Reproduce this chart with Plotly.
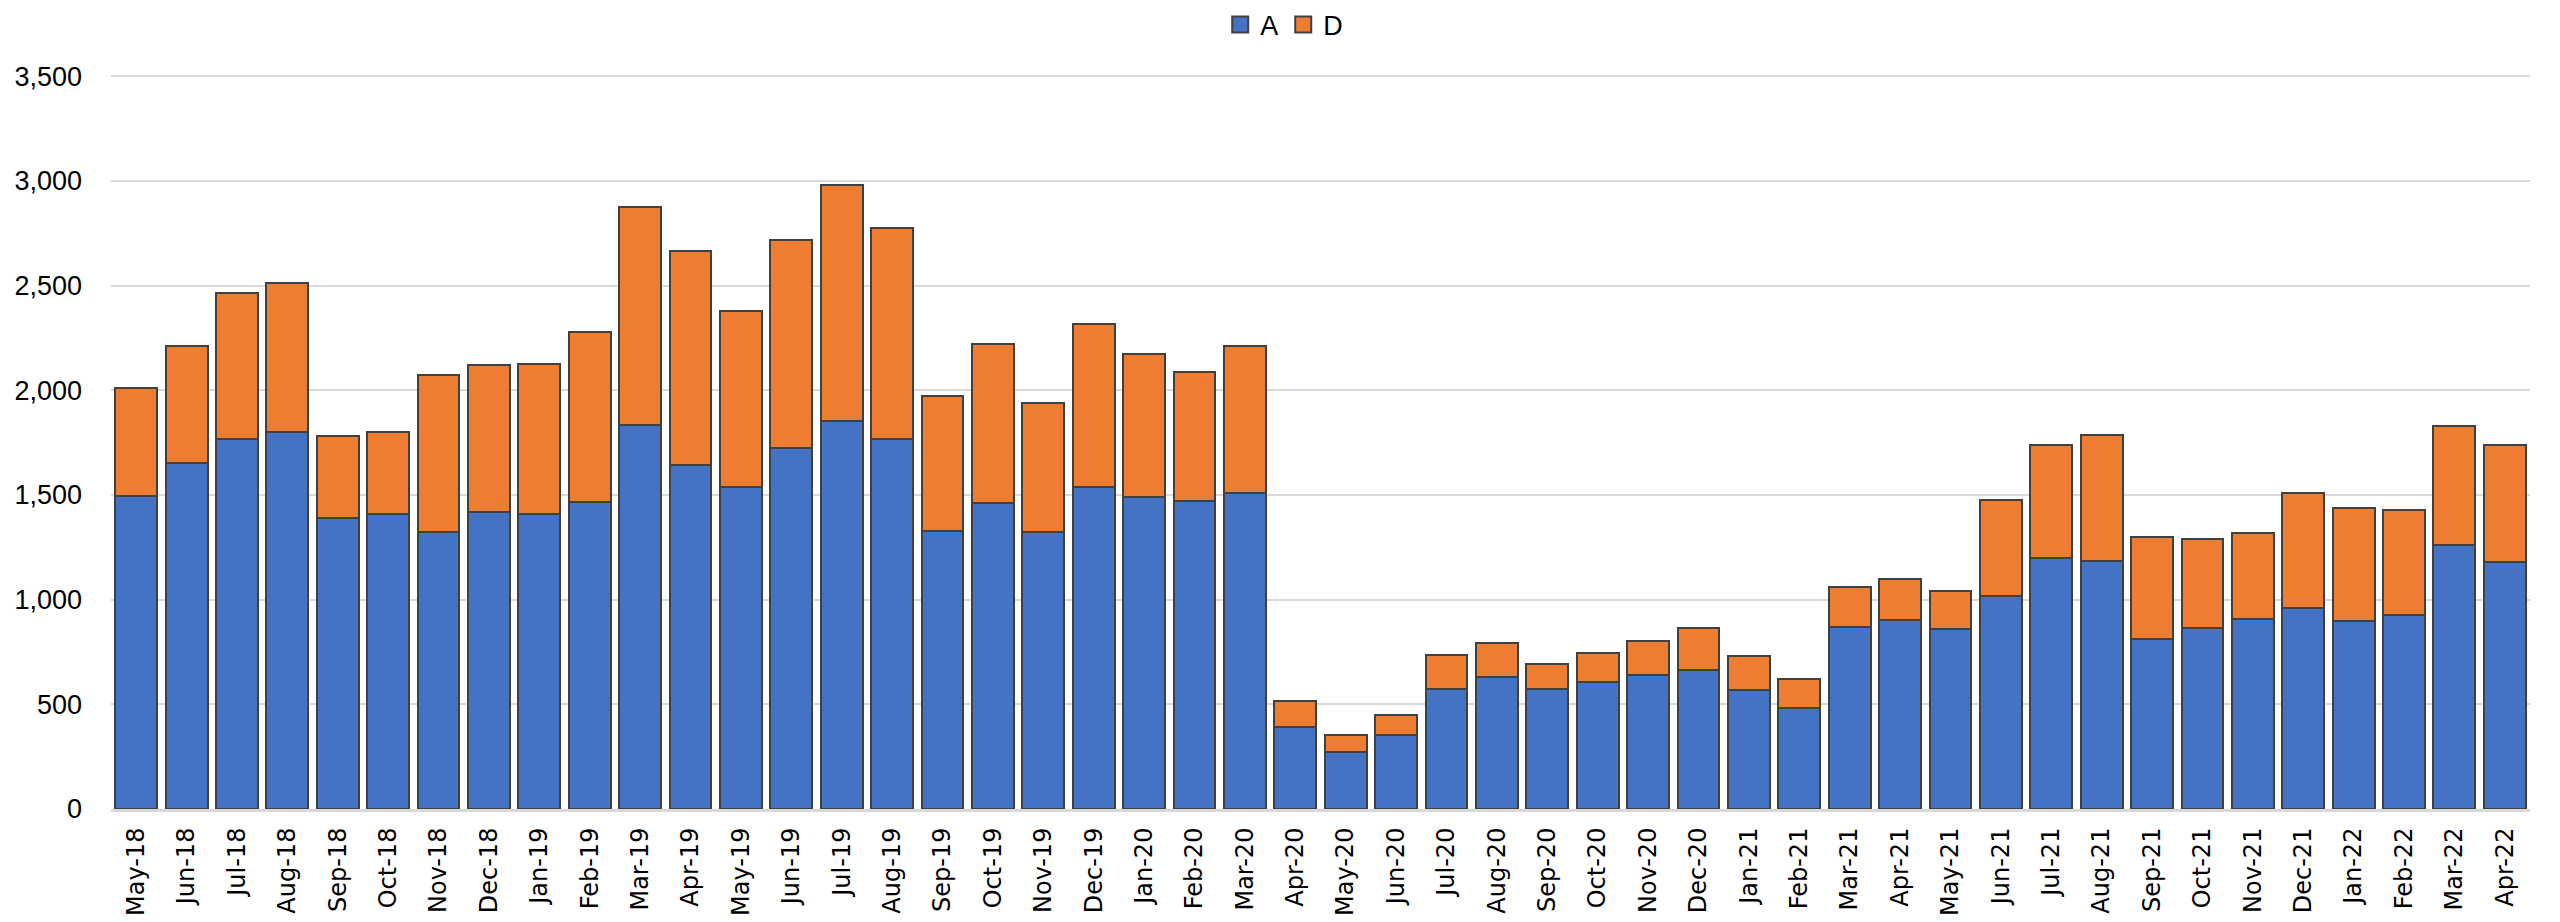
import plotly.graph_objects as go

months = ["May-18", "Jun-18", "Jul-18", "Aug-18", "Sep-18", "Oct-18", "Nov-18", "Dec-18",
          "Jan-19", "Feb-19", "Mar-19", "Apr-19", "May-19", "Jun-19", "Jul-19", "Aug-19",
          "Sep-19", "Oct-19", "Nov-19", "Dec-19", "Jan-20", "Feb-20", "Mar-20", "Apr-20",
          "May-20", "Jun-20", "Jul-20", "Aug-20", "Sep-20", "Oct-20", "Nov-20", "Dec-20",
          "Jan-21", "Feb-21", "Mar-21", "Apr-21", "May-21", "Jun-21", "Jul-21", "Aug-21",
          "Sep-21", "Oct-21", "Nov-21", "Dec-21", "Jan-22", "Feb-22", "Mar-22", "Apr-22"]

series_a = [1497, 1651, 1765, 1802, 1392, 1409, 1325, 1416,
            1409, 1468, 1835, 1641, 1538, 1724, 1855, 1769,
            1328, 1461, 1325, 1540, 1488, 1470, 1511, 393,
            273, 352, 575, 629, 575, 607, 638, 665,
            568, 484, 870, 903, 860, 1019, 1200, 1183,
            813, 866, 909, 961, 897, 928, 1259, 1179]

series_d = [512, 558, 700, 711, 391, 391, 747, 706,
            717, 808, 1042, 1024, 838, 994, 1127, 1006,
            646, 761, 614, 776, 684, 618, 700, 121,
            79, 97, 162, 162, 116, 140, 162, 199,
            162, 139, 190, 196, 179, 456, 537, 605,
            487, 424, 410, 547, 539, 502, 572, 558]

series_names = ["A", "D"]
series_colors = ["#4472C4", "#ED7D31"]
y_ticks = [0, 500, 1000, 1500, 2000, 2500, 3000, 3500]

outline = dict(color="#404040", width=2)

fig = go.Figure()
for name, vals, col in zip(series_names, [series_a, series_d], series_colors):
    fig.add_trace(go.Bar(x=months, y=vals, name=name, showlegend=False,
                         marker=dict(color=col, line=outline)))
# legend entries with larger square symbols
for name, col in zip(series_names, series_colors):
    fig.add_trace(go.Scatter(x=[None], y=[None], mode="markers", name=name,
                             marker=dict(symbol="square", size=16, color=col,
                                         line=dict(color="#404040", width=2))))

fig.update_layout(
    barmode="stack",
    bargap=0.17,
    width=2544, height=914,
    paper_bgcolor="white", plot_bgcolor="white",
    margin=dict(l=103, r=22, t=66, b=113, autoexpand=False),
    font=dict(family="Liberation Sans, Arial, sans-serif", color="#000000"),
    legend=dict(orientation="h", xref="paper", yref="container",
                x=0.485, xanchor="center", y=1 - 17 / 914, yanchor="middle",
                font=dict(size=27, family="Liberation Sans, Arial, sans-serif"),
                traceorder="normal", itemwidth=30, itemsizing="trace",
                bgcolor="rgba(0,0,0,0)"),
    showlegend=True,
)

fig.update_xaxes(
    type="category",
    categoryorder="array", categoryarray=months,
    range=[-0.5, len(months) - 0.5],
    tickangle=-90,
    tickfont=dict(family="DejaVu Sans, Verdana, sans-serif", size=24, color="#000000"),
    showline=True, linecolor="#d9d9d9", linewidth=3,
    showgrid=False, ticks="", ticklen=0,
    ticklabelstandoff=6,
)

fig.update_yaxes(
    range=[0, 3510],
    tickvals=y_ticks,
    tickformat=",d",
    tickfont=dict(family="Liberation Sans, Arial, sans-serif", size=27, color="#000000"),
    showgrid=True, gridcolor="#d9d9d9", gridwidth=2,
    zeroline=False, showline=False, ticks="",
    ticklabelstandoff=28,
)

fig.write_html("out.html")
